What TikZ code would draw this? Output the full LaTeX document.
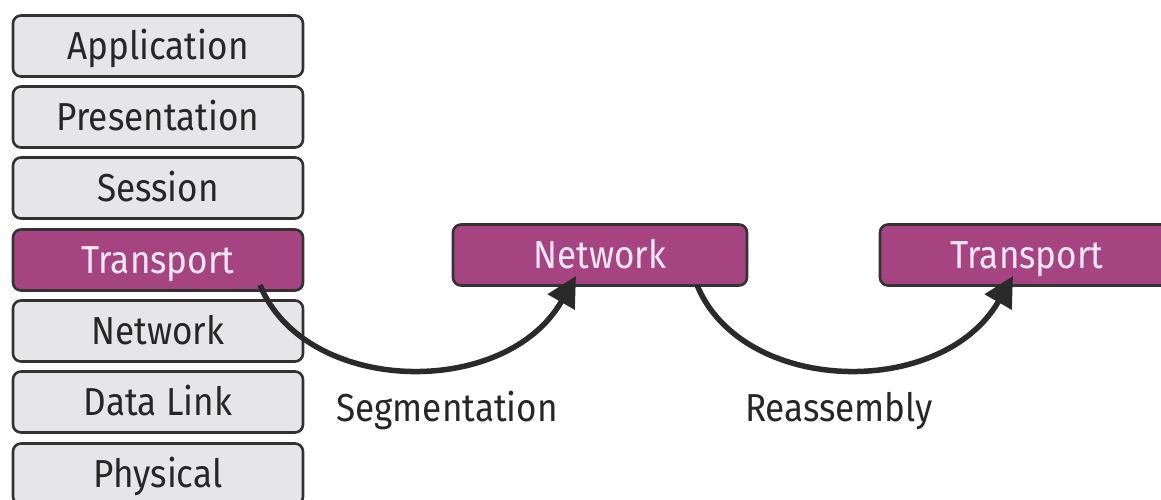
\documentclass[tikz,border=0pt]{standalone}
\usepackage{fontspec}
\setmainfont{Fira Sans}[FakeStretch=0.9]
\usetikzlibrary{arrows.meta}
\definecolor{boxgray}{RGB}{230,230,232}
\definecolor{edgegray}{RGB}{50,50,50}
\definecolor{layerpink}{RGB}{165,68,128}
\definecolor{pinktext}{RGB}{252,232,246}
\definecolor{arrowgray}{RGB}{42,42,42}
\tikzset{
  layer/.style={draw=edgegray, line width=2.6pt, rounded corners=8pt,
    fill=boxgray, minimum width=290pt, minimum height=61pt,
    inner sep=0pt, text height=27pt, text depth=0pt,
    font=\fontsize{39}{39}\selectfont, text=black!85},
  active/.style={layer, fill=layerpink, text=pinktext, draw=black!80},
  flow/.style={draw=arrowgray, line width=5.5pt,
    -{Triangle[length=30pt,width=30pt]}},
  caption/.style={font=\fontsize{39}{39}\selectfont, text=black!85,
    inner sep=0pt, text height=27pt, text depth=0pt}
}
\begin{document}
\begin{tikzpicture}[x=1pt,y=-1pt]
\useasboundingbox (0,0) rectangle (1161,499);
% seven-layer stack
\node[layer]  (app)  at (158,46)  {Application};
\node[layer]  (pres) at (158,117) {Presentation};
\node[layer]  (ses)  at (158,188) {Session};
\node[active] (tr)   at (158,260) {Transport};
\node[layer]  (net)  at (158,331) {Network};
\node[layer]  (dl)   at (158,402) {Data Link};
\node[layer]  (phy)  at (158,474) {Physical};
% single layers on the right
\node[active, minimum width=294pt] (net2) at (600,255) {Network};
\node[active, minimum width=294pt] (tr2)  at (1027,255) {Transport};
% connectors
\coordinate (s1) at (260,285);
\coordinate (e1) at (576,276);
\coordinate (s2) at (697,285);
\coordinate (e2) at (1013,276);
\draw[flow] (s1) .. controls (305,395) and (505,400) .. (e1);
\draw[flow] (s2) .. controls (742,395) and (942,400) .. (e2);
% captions
\node[caption] (seg) at (447,408) {Segmentation};
\node[caption] (rea) at (839,408) {Reassembly};
\end{tikzpicture}
\end{document}
